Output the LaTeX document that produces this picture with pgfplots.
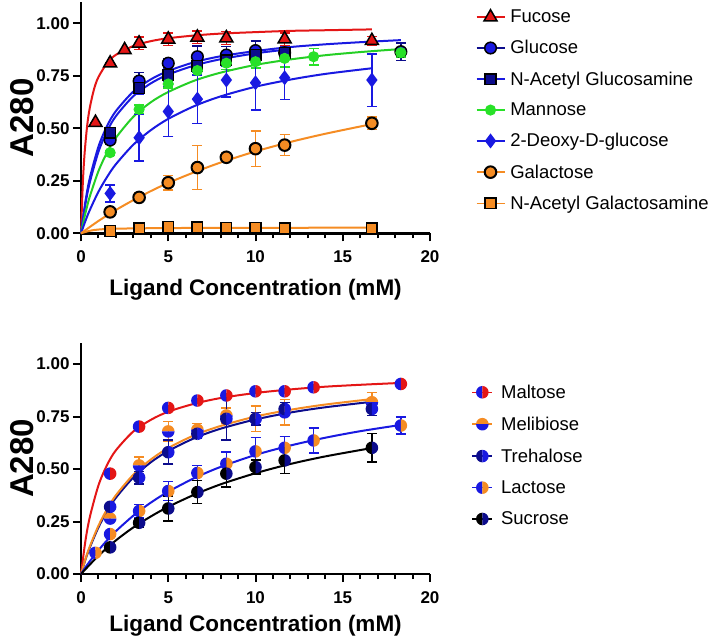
\documentclass[border=0pt]{standalone}
\usepackage{pgfplots}
\pgfplotsset{compat=1.18}
\usepackage{fontspec}
\setmainfont{Liberation Sans}
\usetikzlibrary{plotmarks}

\definecolor{cred}{RGB}{228,22,22}
\definecolor{cblue}{RGB}{25,25,225}
\definecolor{cnavy}{RGB}{12,12,140}
\definecolor{cgreen}{RGB}{40,225,40}
\definecolor{corange}{RGB}{245,140,35}

\newcommand\declarehalf[6]{%
 \pgfdeclareplotmark{#1}{%
  \pgfpathmoveto{\pgfpointpolar{#2}{\pgfplotmarksize}}%
  \pgfpatharc{#2}{#3}{\pgfplotmarksize}%
  \pgfpathclose
  \pgfsetfillcolor{#5}\pgfusepath{fill}%
  \pgfpathmoveto{\pgfpointpolar{#3}{\pgfplotmarksize}}%
  \pgfpatharc{#3}{#4}{\pgfplotmarksize}%
  \pgfpathclose
  \pgfsetfillcolor{#6}\pgfusepath{fill}%
 }}
\declarehalf{malt}{90}{270}{450}{cblue}{cred}
\declarehalf{meli}{0}{180}{360}{corange}{cblue}
\declarehalf{treh}{90}{270}{450}{cnavy}{cblue}
\declarehalf{lact}{90}{270}{450}{cblue}{corange}
\declarehalf{sucr}{90}{270}{450}{black}{cnavy}

\pgfplotsset{
 panel/.style={
  scale only axis, width=349pt, height=231pt,
  xmin=0, xmax=20, ymin=0, ymax=1.1, clip=false,
  axis x line=bottom, axis y line=left,
  axis line style={-, line width=2.5pt, black},
  tick align=outside, major tick length=8pt, minor tick length=5pt,
  every tick/.style={line width=2pt, black},
  xtick={0,5,10,15,20}, minor x tick num=4,
  ytick={0,0.25,0.5,0.75,1},
  /pgf/number format/assume math mode=true,
  tick label style={font=\fontsize{17}{17}\selectfont\bfseries},
  xticklabel style={yshift=-6pt},
  yticklabel style={/pgf/number format/.cd, fixed, fixed zerofill, precision=2},
  xlabel={Ligand Concentration (mM)},
  xlabel style={font=\fontsize{22.5}{22.5}\selectfont\bfseries, anchor=center},
  ylabel={A280},
  ylabel style={font=\fontsize{33}{33}\selectfont\bfseries, at={(axis description cs:-0.170,0.5)}, anchor=center},
  legend cell align=left,
  legend image code/.code={%
    \draw[##1, mark=none, solid] (-14pt,0pt) -- (14pt,0pt);
    \draw[##1, only marks] plot coordinates {(0pt,0pt)};},
  legend style={draw=none, fill=none, font=\fontsize{18.5}{20}\selectfont, row sep=12.3pt,
    /tikz/every odd column/.append style={column sep=3pt}},
 },
 pts/.style={only marks, line width=1.5pt,
  error bars/y dir=both, error bars/y explicit,
  error bars/error bar style={line width=1.5pt},
  error bars/error mark options={rotate=90, mark size=5pt, line width=1.5pt}},
 fit/.style={line width=2pt, smooth, forget plot, mark=none},
}

\begin{document}
\begin{tikzpicture}
\path[use as bounding box] (0pt,0pt) rectangle (710pt,-641pt);

% ---------------- top panel ----------------
\begin{axis}[panel, at={(81pt,-233.3pt)}, anchor=south west,
  xlabel style={at={(axis description cs:0.5,-0.245)}},
  legend style={at={(axis description cs:1.122,0.532)}, anchor=west}]
\addplot[fit, cred] coordinates {(0,0)(0.1,0.230)(0.2,0.374)(0.35,0.510)(0.5,0.596)(0.75,0.6875)(1,0.744)(1.5,0.811)(2,0.850)(3,0.892)(4,0.915)(5,0.929)(6.5,0.942)(8,0.951)(10,0.958)(12,0.964)(14,0.967)(16.67,0.971)};
\addplot[fit, cblue] coordinates {(0,0)(0.25,0.150)(0.5,0.261)(1,0.4125)(1.5,0.512)(2,0.582)(3,0.675)(4,0.733)(5,0.773)(6.5,0.815)(8,0.843)(10,0.868)(12,0.887)(14,0.900)(16,0.910)(18.33,0.920)};
\addplot[fit, cblue] coordinates {(0,0)(0.25,0.1375)(0.5,0.241)(1,0.388)(1.5,0.487)(2,0.558)(3,0.653)(4,0.714)(5,0.756)(6.5,0.799)(8,0.829)(10,0.857)(11.67,0.874)};
\addplot[fit, cgreen!92!black] coordinates {(0,0)(0.25,0.095)(0.5,0.174)(1,0.296)(1.5,0.386)(2,0.455)(3,0.555)(4,0.624)(5,0.673)(6.5,0.727)(8,0.765)(10,0.802)(12,0.828)(14,0.848)(16,0.863)(18.33,0.8775)};
\addplot[fit, cblue] coordinates {(0,0)(0.25,0.058)(0.5,0.110)(1,0.198)(1.5,0.269)(2,0.329)(3,0.422)(4,0.491)(5,0.545)(6.5,0.606)(8,0.652)(10,0.698)(12,0.732)(14,0.759)(16.67,0.786)};
\addplot[fit, corange] coordinates {(0,0)(1,0.0588)(2,0.111)(3,0.158)(4,0.201)(5,0.240)(6.5,0.291)(8,0.337)(10,0.390)(12,0.435)(14,0.474)(16.67,0.520)};
\addplot[fit, corange] coordinates {(0,0)(0.5,0.012)(1,0.018)(2,0.022)(5,0.025)(10,0.026)(16.67,0.027)};

\addplot[pts, cred, mark=triangle*, mark size=7.5pt, mark options={fill=cred, draw=black, line width=1.5pt, solid}]
 table[x=x, y=y, y error=e] {
x y e
0.83 0.527 0.0
1.67 0.81 0.0
2.5 0.873 0.0
3.33 0.905 0.03
5 0.924 0.03
6.67 0.933 0.03
8.33 0.93 0.03
11.67 0.925 0.03
16.67 0.917 0.02
};
\addlegendentry{Fucose}
\addplot[pts, cnavy, mark=*, mark size=5.8pt, mark options={fill=cblue, draw=black, line width=1.5pt}]
 table[x=x, y=y, y error=e] {
x y e
1.67 0.444 0.02
3.33 0.725 0.04
5 0.81 0.02
6.67 0.841 0.05
8.33 0.849 0.04
10 0.87 0.046
11.67 0.86 0.03
18.33 0.865 0.042
};
\addlegendentry{Glucose}
\addplot[pts, cblue, mark=square*, mark size=5.3pt, mark options={fill=cnavy, draw=black, line width=1.5pt}]
 table[x=x, y=y, y error=e] {
x y e
1.67 0.478 0.02
3.33 0.692 0.03
5 0.754 0.03
6.67 0.797 0.03
8.33 0.825 0.03
10 0.849 0.03
11.67 0.86 0.03
};
\addlegendentry{N-Acetyl Glucosamine}
\addplot[pts, cgreen, mark=*, mark size=4.8pt, mark options={fill=cgreen, draw=cgreen}]
 table[x=x, y=y, y error=e] {
x y e
1.67 0.384 0.01
3.33 0.59 0.02
5 0.711 0.02
6.67 0.775 0.02
8.33 0.81 0.03
10 0.817 0.03
11.67 0.833 0.04
13.33 0.841 0.04
18.33 0.86 0.02
};
\addlegendentry{Mannose}
\addplot[pts, cblue, mark=diamond*, mark size=6.3pt, mark options={fill=cblue, draw=cblue}]
 table[x=x, y=y, y error=e] {
x y e
1.67 0.19 0.04
3.33 0.455 0.11
5 0.58 0.12
6.67 0.639 0.115
8.33 0.73 0.08
10 0.717 0.13
11.67 0.741 0.105
16.67 0.73 0.125
};
\addlegendentry{2-Deoxy-D-glucose}
\addplot[pts, corange, mark=*, mark size=5.8pt, mark options={fill=corange, draw=black, line width=2pt}]
 table[x=x, y=y, y error=e] {
x y e
1.67 0.102 0.02
3.33 0.171 0.02
5 0.241 0.035
6.67 0.313 0.105
8.33 0.362 0.02
10 0.403 0.085
11.67 0.42 0.05
16.67 0.524 0.03
};
\addlegendentry{Galactose}
\addplot[pts, corange, mark=square*, mark size=5.3pt, mark options={fill=corange, draw=black, line width=1.5pt}]
 table[x=x, y=y, y error=e] {
x y e
1.67 0.011 0.01
3.33 0.025 0.01
5 0.03 0.015
6.67 0.028 0.01
8.33 0.027 0.01
10 0.026 0.01
11.67 0.024 0.01
16.67 0.025 0.01
};
\addlegendentry{N-Acetyl Galactosamine}
\end{axis}

% ---------------- bottom panel ----------------
\begin{axis}[panel, at={(81pt,-574pt)}, anchor=south west,
  xlabel style={at={(axis description cs:0.5,-0.225)}},
  legend image code/.code={%
    \draw[#1, mark=none, solid] (-10pt,0pt) -- (10pt,0pt);
    \draw[#1, only marks] plot coordinates {(0pt,0pt)};},
  legend style={at={(axis description cs:1.11,0.513)}, anchor=west, row sep=13pt,
    /tikz/every odd column/.append style={column sep=6pt}}]
\addplot[fit, cred] coordinates {(0,0)(0.25,0.156)(0.5,0.269)(1,0.422)(1.5,0.520)(2,0.589)(3,0.679)(4,0.734)(5,0.773)(6.5,0.811)(8,0.838)(10,0.862)(12,0.879)(14,0.892)(16,0.901)(18.33,0.910)};
\addplot[fit, cnavy] coordinates {(0,0)(0.25,0.067)(0.5,0.125)(1,0.222)(1.5,0.300)(2,0.363)(3,0.460)(4,0.532)(5,0.586)(6.5,0.647)(8,0.692)(10,0.736)(12,0.769)(14,0.794)(16.67,0.820)};
\addplot[fit, corange] coordinates {(0,0)(0.25,0.070)(0.5,0.130)(1,0.230)(1.5,0.310)(2,0.375)(3,0.473)(4,0.545)(5,0.600)(6.5,0.661)(8,0.705)(10,0.750)(12,0.782)(14,0.807)(16.67,0.833)};
\addplot[fit, cblue] coordinates {(0,0)(0.25,0.031)(0.5,0.060)(1,0.113)(1.5,0.161)(2,0.204)(3,0.278)(4,0.340)(5,0.392)(6.5,0.457)(8,0.510)(10,0.567)(12,0.612)(14,0.649)(16,0.680)(18.33,0.710)};
\addplot[fit, black] coordinates {(0,0)(1,0.087)(2,0.160)(3,0.222)(4,0.274)(5,0.320)(6.5,0.378)(8,0.427)(10,0.480)(12,0.524)(14,0.560)(16.67,0.600)};

\addplot[pts, cred, mark=malt, mark size=6.3pt]
 table[x=x, y=y, y error=e] {
x y e
1.67 0.478 0.01
3.33 0.702 0.01
5 0.791 0.01
6.67 0.826 0.01
8.33 0.85 0.01
10 0.87 0.01
11.67 0.87 0.01
13.33 0.889 0.01
18.33 0.905 0.01
};
\addlegendentry{Maltose}
\addplot[pts, corange, mark=meli, mark size=6.3pt]
 table[x=x, y=y, y error=e] {
x y e
1.67 0.264 0.01
3.33 0.517 0.04
5 0.679 0.047
6.67 0.687 0.03
8.33 0.755 0.035
10 0.739 0.06
11.67 0.77 0.06
16.67 0.818 0.047
};
\addlegendentry{Melibiose}
\addplot[pts, cnavy, mark=treh, mark size=6.3pt]
 table[x=x, y=y, y error=e] {
x y e
1.67 0.32 0.01
3.33 0.459 0.03
5 0.58 0.057
6.67 0.668 0.02
8.33 0.739 0.1
10 0.739 0.03
11.67 0.786 0.03
16.67 0.786 0.03
};
\addlegendentry{Trehalose}
\addplot[pts, cblue, mark=lact, mark size=6.3pt]
 table[x=x, y=y, y error=e] {
x y e
0.83 0.101 0.01
1.67 0.19 0.01
3.33 0.30 0.03
5 0.395 0.045
6.67 0.481 0.035
8.33 0.525 0.055
10 0.584 0.065
11.67 0.601 0.055
13.33 0.636 0.06
18.33 0.707 0.04
};
\addlegendentry{Lactose}
\addplot[pts, black, mark=sucr, mark size=6.3pt]
 table[x=x, y=y, y error=e] {
x y e
1.67 0.127 0.01
3.33 0.244 0.02
5 0.312 0.06
6.67 0.39 0.055
8.33 0.478 0.063
10 0.509 0.033
11.67 0.541 0.062
16.67 0.601 0.067
};
\addlegendentry{Sucrose}
\end{axis}
\end{tikzpicture}
\end{document}
